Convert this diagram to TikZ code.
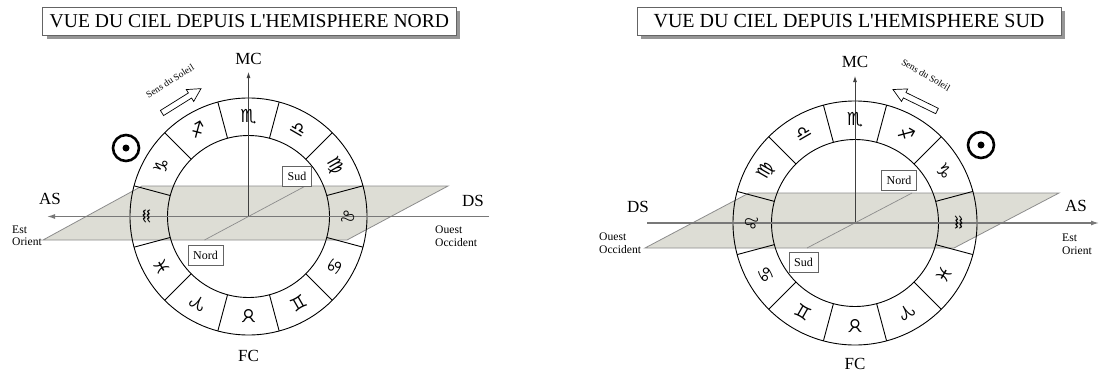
\documentclass[tikz,border=0pt]{standalone}
\usepackage{fontspec}
\newfontfamily\tf{Liberation Serif}
\newfontfamily\zf{DejaVu Sans}
\usetikzlibrary{arrows.meta,calc}
\definecolor{planefill}{RGB}{221,221,213}
\definecolor{planeedge}{RGB}{140,140,140}
\definecolor{axisgray}{RGB}{120,120,120}
\definecolor{boxgray}{RGB}{100,100,100}
\definecolor{shadowgray}{RGB}{150,150,150}
\tikzset{
  plane/.style={fill=planefill, draw=planeedge, line width=0.8pt},
  diag/.style={draw=planeedge, line width=0.7pt},
  wheel/.style={draw=black, line width=0.9pt},
  axisline/.style={draw=axisgray, line width=1.3pt},
  vline/.style={draw=black!75, line width=0.8pt},
  lbl/.style={font=\tf\fontsize{17}{17}\selectfont, inner sep=0pt},
  small/.style={font=\tf\fontsize{11.6}{12}\selectfont, inner sep=0pt, anchor=base west},
  tag/.style={draw=boxgray, fill=white, line width=0.6pt, font=\tf\fontsize{12}{12}\selectfont, inner xsep=5pt, inner ysep=0pt, minimum height=20pt},
  sign/.style={font=\zf\fontsize{18}{18}\selectfont, inner sep=0pt},
  sens/.style={font=\tf\fontsize{9.5}{10}\selectfont, inner sep=0pt},
  hollow/.style={draw=black, fill=white, line width=0.7pt},
  sunring/.style={draw=black, line width=2.6pt},
  titlebox/.style={draw=boxgray, fill=white, line width=0.8pt},
  shadowbox/.style={fill=shadowgray, draw=none},
  titletext/.style={font=\tf\fontsize{19.6}{20}\selectfont, inner sep=0pt},
}
\begin{document}
\begin{tikzpicture}[x=1pt,y=-1pt]
\useasboundingbox[fill=white] (0,0) rectangle (1099,372);

% ================= LEFT: NORD =================
\coordinate (CN) at (248.5,216.5);
% title
\fill[shadowbox] (46.7,11) rectangle (460,39);
\draw[titlebox] (42.7,7) rectangle (456,35);
\node[titletext] (tN) at (249.4,21.5) {VUE DU CIEL DEPUIS L'HEMISPHERE NORD};
% plane
\draw[plane] (43,240) -- (347,240) -- (448,186) -- (142,186) -- cycle;
\coordinate (dNa) at (204.5,240);
\coordinate (dNb) at (305.5,186);
\draw[diag] (dNa) -- (dNb);
% wheel
\draw[wheel] (CN) circle[radius=118.5pt];
\draw[wheel] (CN) circle[radius=81pt];
\foreach \a in {15,45,...,345}
  \draw[wheel] ($(CN)+(\a:81pt)$) -- ($(CN)+(\a:118.5pt)$);
% axes
\coordinate (NMCtip) at (248.5,72);
\draw[vline,-{Latex[length=6pt,width=4pt]}] (CN) -- (NMCtip);
\coordinate (NaxR) at (489,216.5);
\coordinate (NaxL) at (47,216.5);
\draw[axisline,-{Latex[length=8pt,width=5pt]}] (NaxR) -- (NaxL);
% tags
\node[tag] (nSud) at (297,176) {Sud};
\node[tag] (nNord) at (205.5,255) {Nord};
% signs
\foreach \s [count=\i from 0] in {♈,♉,♊,♋,♌,♍,♎,♏,♐,♑,♒,♓} {
  \pgfmathsetmacro\ang{240+30*\i}
  \node[sign, rotate=\ang-90] (ns\i) at ($(CN)+(\ang:100pt)$) {\s};
}
% labels
\node[lbl] (nMC) at (248.5,59) {MC};
\node[lbl] (nFC) at (248.5,356) {FC};
\node[lbl] (nAS) at (50,199) {AS};
\node[lbl] (nDS) at (473,201) {DS};
\node[small] (nEst) at (12,233) {Est};
\node[small] (nOri) at (12,245.5) {Orient};
\node[small] (nOue) at (435,233) {Ouest};
\node[small] (nOcc) at (435,246) {Occident};
% sun and direction
\draw[sunring] (126,148) circle[radius=13pt];
\fill (126,148) circle[radius=3.5pt];
\node[sens, rotate=32] (nSens) at (170,81) {Sens du Soleil};
\begin{scope}[shift={(162,113)}, rotate=32]
  \draw[hollow] (0,-3) -- (33,-3) -- (33,-7) -- (46,0) -- (33,7) -- (33,3) -- (0,3) -- cycle;
\end{scope}

% ================= RIGHT: SUD =================
\coordinate (CS) at (855,223);
\fill[shadowbox] (641,11) rectangle (1065,39);
\draw[titlebox] (637,7) rectangle (1061,35);
\node[titletext, font=\tf\fontsize{20}{20}\selectfont] (tS) at (849,21.5) {VUE DU CIEL DEPUIS L'HEMISPHERE SUD};
% plane
\draw[plane] (645,248) -- (954,248) -- (1059,193) -- (749,193) -- cycle;
\coordinate (dSa) at (807,248);
\coordinate (dSb) at (912,193);
\draw[diag] (dSa) -- (dSb);
% wheel
\draw[wheel] (CS) circle[radius=122pt];
\draw[wheel] (CS) circle[radius=83.5pt];
\foreach \a in {15,45,...,345}
  \draw[wheel] ($(CS)+(\a:83.5pt)$) -- ($(CS)+(\a:122pt)$);
% axes
\coordinate (SMCtip) at (855,76);
\draw[vline,-{Latex[length=6pt,width=4pt]}] (CS) -- (SMCtip);
\coordinate (SaxL) at (647,223);
\coordinate (SaxR) at (1099,223);
\draw[axisline,-{Latex[length=8pt,width=5pt]}] (SaxL) -- (SaxR);
% tags
\node[tag] (sNord) at (899,180) {Nord};
\node[tag] (sSud) at (803.5,262) {Sud};
% signs
\foreach \s [count=\i from 0] in {♈,♉,♊,♋,♌,♍,♎,♏,♐,♑,♒,♓} {
  \pgfmathsetmacro\ang{300-30*\i}
  \node[sign, rotate=\ang-90] (ss\i) at ($(CS)+(\ang:103pt)$) {\s};
}
% labels
\node[lbl] (sMC) at (855,62) {MC};
\node[lbl] (sFC) at (855,364) {FC};
\node[lbl] (sDS) at (638,207) {DS};
\node[lbl] (sAS) at (1076,206) {AS};
\node[small] (sOue) at (599,240) {Ouest};
\node[small] (sOcc) at (599,253) {Occident};
\node[small] (sEst) at (1062,241) {Est};
\node[small] (sOri) at (1062,254) {Orient};
% sun and direction
\draw[sunring] (981,145) circle[radius=13pt];
\fill (981,145) circle[radius=3.5pt];
\node[sens, rotate=-30] (sSens) at (926,75) {Sens du Soleil};
\begin{scope}[shift={(937,111)}, rotate=154]
  \draw[hollow] (0,-3) -- (36,-3) -- (36,-7) -- (49,0) -- (36,7) -- (36,3) -- (0,3) -- cycle;
\end{scope}
\end{tikzpicture}
\end{document}
